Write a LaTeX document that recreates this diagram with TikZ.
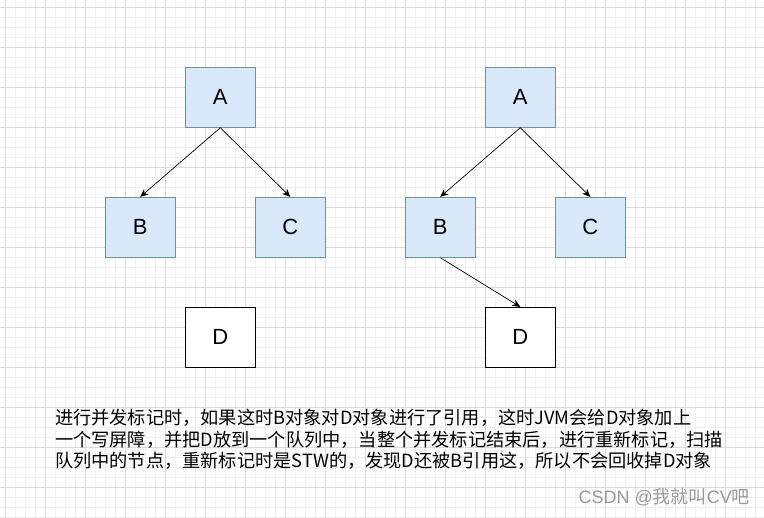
\documentclass[tikz,border=0pt]{standalone}
\usepackage{fontspec}
\setmainfont{Liberation Sans}
\newfontfamily\cjk{Noto Sans CJK SC}
\usetikzlibrary{arrows.meta}
\definecolor{boxfill}{HTML}{DAE8FC}
\definecolor{boxline}{HTML}{6C8EBF}
\definecolor{gridminor}{HTML}{EFEFEF}
\definecolor{gridmajor}{HTML}{DADADA}
\definecolor{wmark}{HTML}{9A9A9A}
\tikzset{
  objbox/.style={draw=boxline, fill=boxfill, line width=0.8pt, minimum width=70pt, minimum height=60pt, inner sep=0pt, font=\fontsize{22}{26}\selectfont},
  plainbox/.style={draw=black, fill=white, line width=0.8pt, minimum width=70pt, minimum height=60pt, inner sep=0pt, font=\fontsize{22}{26}\selectfont},
  ref/.style={draw=black, line width=0.7pt, -{Stealth[length=8pt,width=7pt,inset=2.5pt]}},
}
\begin{document}
\begin{tikzpicture}[x=1pt,y=-1pt]
\useasboundingbox (0,0) rectangle (764,518);
\fill[white] (0,0) rectangle (764,518);
% grid
\foreach \i in {0,...,76} {
  \draw[gridminor, line width=0.6pt] ({5.3+10*\i},0) -- ({5.3+10*\i},518);
}
\foreach \j in {0,...,51} {
  \draw[gridminor, line width=0.6pt] (0,{7.3+10*\j}) -- (764,{7.3+10*\j});
}
\foreach \i in {0,...,19} {
  \draw[gridmajor, line width=0.6pt] ({5.3+40*\i},0) -- ({5.3+40*\i},518);
}
\foreach \j in {0,...,12} {
  \draw[gridmajor, line width=0.6pt] (0,{7.3+40*\j}) -- (764,{7.3+40*\j});
}
% left tree
\node[objbox] (A1) at (220.3,97.3) {A};
\node[objbox] (B1) at (140.3,227.3) {B};
\node[objbox] (C1) at (290.3,227.3) {C};
\node[plainbox] (D1) at (220.3,337.3) {D};
\draw[ref] (A1.south) -- (B1.north);
\draw[ref] (A1.south) -- (C1.north);
% right tree
\node[objbox] (A2) at (520.3,97.3) {A};
\node[objbox] (B2) at (440.3,227.3) {B};
\node[objbox] (C2) at (590.3,227.3) {C};
\node[plainbox] (D2) at (520.3,337.3) {D};
\draw[ref] (A2.south) -- (B2.north);
\draw[ref] (A2.south) -- (C2.north);
\draw[ref] (B2.south) -- (D2.north);
% description
\node[anchor=west, align=left, inner sep=0pt, font=\cjk\fontsize{18.2}{21.5}\selectfont] (txt) at (55,439.5)
  {进行并发标记时，如果这时B对象对D对象进行了引用，这时JVM会给D对象加上\\
   一个写屏障，并把D放到一个队列中，当整个并发标记结束后，进行重新标记，扫描\\
   队列中的节点，重新标记时是STW的，发现D还被B引用这，所以不会回收掉D对象};
% watermark
\node[anchor=east, inner sep=0pt, text=wmark, font=\fontsize{18}{20}\selectfont] (wm) at (750,497)
  {CSDN @{\cjk 我就叫}CV{\cjk 吧}};
\end{tikzpicture}
\end{document}
